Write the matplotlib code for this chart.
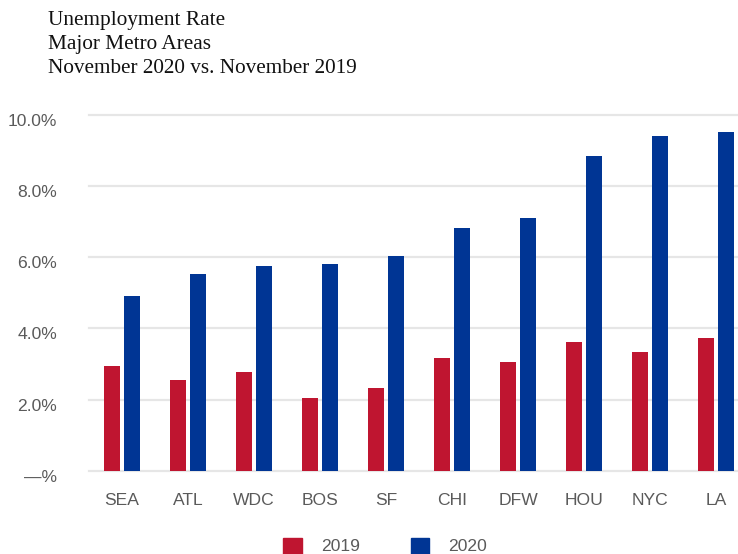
import matplotlib
matplotlib.use("Agg")
import matplotlib.pyplot as plt
import matplotlib.transforms as mtransforms
import numpy as np
from matplotlib.patches import Patch

# Metro areas and unemployment rates (%)
metros = ["SEA", "ATL", "WDC", "BOS", "SF", "CHI", "DFW", "HOU", "NYC", "LA"]
rate_2019 = [2.94, 2.55, 2.77, 2.04, 2.32, 3.17, 3.06, 3.62, 3.34, 3.73]
rate_2020 = [4.91, 5.53, 5.75, 5.81, 6.04, 6.82, 7.10, 8.85, 9.41, 9.52]
years = ["2019", "2020"]
y_ticks = [0, 2, 4, 6, 8, 10]
y_tick_labels = ["\u2014%", "2.0%", "4.0%", "6.0%", "8.0%", "10.0%"]

RED = "#BF1530"
BLUE = "#003594"
GRID = "#E6E6E6"
LABEL = "#5A5A5A"
FS = 12.6

W, H = 738, 554
fig = plt.figure(figsize=(W / 100, H / 100), dpi=100)

# axes placed in pixel terms
left_px, right_px = 89, 738
bottom_px, top_px = 470.7, 115
ax = fig.add_axes([left_px / W, 1 - bottom_px / H,
                   (right_px - left_px) / W, (bottom_px - top_px) / H])

x = np.arange(len(metros))
bw = 16 / 66
off = 10 / 66
ax.bar(x - off, rate_2019, width=bw, color=RED, zorder=3)
ax.bar(x + off, rate_2020, width=bw, color=BLUE, zorder=3)

ax.set_xlim(-0.5, -0.5 + (right_px - left_px) / 66)
ax.set_ylim(0, 10)
ax.set_yticks(y_ticks)
ax.set_yticklabels(y_tick_labels)
ax.set_xticks(x)
ax.set_xticklabels(metros)

for v in y_ticks:
    ax.axhline(v, color=GRID, lw=1.6, zorder=1, clip_on=False)

for s in ax.spines.values():
    s.set_visible(False)
ax.tick_params(axis="both", length=0, colors=LABEL, labelsize=FS)
ax.tick_params(axis="y", pad=23)
ax.tick_params(axis="x", pad=16)
for lab in ax.get_xticklabels() + ax.get_yticklabels():
    lab.set_fontfamily("Liberation Sans")
    lab.set_color(LABEL)

# y labels sit slightly below their gridlines
shift = mtransforms.ScaledTranslation(0, -5 / 100, fig.dpi_scale_trans)
for lab in ax.get_yticklabels():
    lab.set_transform(lab.get_transform() + shift)

# title block
title_lines = ["Unemployment Rate", "Major Metro Areas",
               "November 2020 vs. November 2019"]
for i, line in enumerate(title_lines):
    fig.text(48 / W, 1 - (25 + 24 * i) / H, line, fontsize=15.3,
             family="Liberation Serif", color="#111111", va="baseline")

# legend
handles = [Patch(color=RED), Patch(color=BLUE)]
leg = fig.legend(handles, years, loc="center", bbox_to_anchor=(385 / W, 1 - 546 / H),
                 ncol=2, frameon=False, handlelength=1.03, handleheight=1.03,
                 handletextpad=1.1, columnspacing=2.9,
                 prop={"family": "Liberation Sans", "size": FS})
for t in leg.get_texts():
    t.set_color(LABEL)

fig.savefig("out.png", dpi=100)
